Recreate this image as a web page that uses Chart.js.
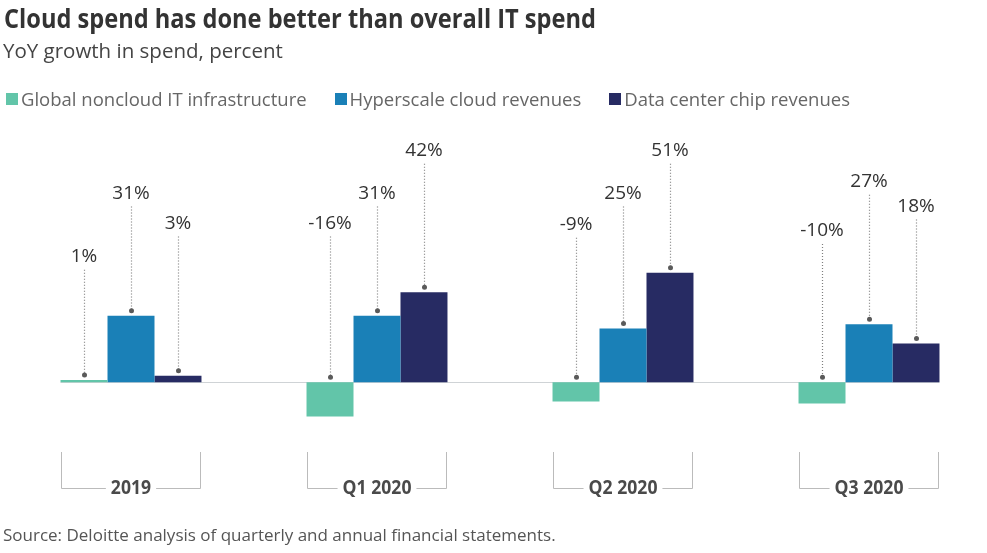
<!DOCTYPE html>
<html>
<head>
<meta charset="utf-8">
<script src="https://cdn.jsdelivr.net/npm/chart.js@4/dist/chart.umd.min.js"></script>
<style>
  html, body { margin: 0; padding: 0; background: #fff; overflow: hidden; width: 987px; height: 553px; }
  body { position: relative; font-family: "Open Sans", sans-serif; }
  #wrap { position: absolute; left: 0; top: 0; width: 1000px; height: 553px; }
  #title { position: absolute; left: 4px; top: 0; font: 700 27px/36px "Open Sans", sans-serif; color: #333; white-space: nowrap; transform-origin: 0 0; }
  #subtitle { position: absolute; left: 3px; top: 36px; font: 400 20.5px/28px "Open Sans", sans-serif; color: #444; white-space: nowrap; }
  #legend { position: absolute; left: 6px; top: 87px; font: 400 18.5px/24px "Open Sans", sans-serif; color: #666; white-space: nowrap; display: flex; }
  #legend .item { display: flex; align-items: center; margin-right: 28px; }
  #legend .box { width: 12px; height: 12px; margin-right: 3px; }
  #note { position: absolute; left: 3px; top: 523px; font: 400 17px/24px "Open Sans", sans-serif; color: #555; white-space: nowrap; }
</style>
</head>
<body>
<div id="wrap"><canvas id="chart"></canvas></div>
<div id="title">Cloud spend has done better than overall IT spend</div>
<div id="subtitle">YoY growth in spend, percent</div>
<div id="legend"></div>
<div id="note">Source: Deloitte analysis of quarterly and annual financial statements.</div>
<script>
// values
const categories = ["2019", "Q1 2020", "Q2 2020", "Q3 2020"];
const seriesNames = ["Global noncloud IT infrastructure", "Hyperscale cloud revenues", "Data center chip revenues"];
const noncloud = [1, -16, -9, -10];
const hyperscale = [31, 31, 25, 27];
const chips = [3, 42, 51, 18];
// heights (in percent units) where each value label sits
const noncloudLabelAt = [58.5, 74, 73.5, 70.5];
const hyperscaleLabelAt = [88, 88, 88, 93.5];
const chipsLabelAt = [74, 108, 108, 82];

const colors = ["#62c5a9", "#1a80b7", "#272b63"];
const series = [noncloud, hyperscale, chips];
const labelAt = [noncloudLabelAt, hyperscaleLabelAt, chipsLabelAt];

// fit title width like the condensed original
(function () {
  const t = document.getElementById("title");
  const c = document.createElement("canvas").getContext("2d");
  c.font = "700 27px 'Open Sans'";
  const w = c.measureText(t.textContent).width;
  t.style.transform = `scaleX(${592 / w})`;
})();

// html legend
const legendEl = document.getElementById("legend");
seriesNames.forEach((name, i) => {
  const item = document.createElement("div");
  item.className = "item";
  item.innerHTML = `<span class="box" style="background:${colors[i]}"></span><span>${name}</span>`;
  legendEl.appendChild(item);
});

const annotations = {
  id: "annotations",
  beforeDatasetsDraw(chart) {
    const { ctx } = chart;
    const y = chart.scales.y;
    const first = chart.getDatasetMeta(0).data[0];
    const last = chart.getDatasetMeta(2).data[categories.length - 1];
    const y0 = y.getPixelForValue(0);
    ctx.save();
    ctx.strokeStyle = "#cfd3d6";
    ctx.lineWidth = 1;
    ctx.beginPath();
    ctx.moveTo(first.x - first.width / 2, Math.round(y0) + 0.5);
    ctx.lineTo(last.x + last.width / 2, Math.round(y0) + 0.5);
    ctx.stroke();
    ctx.restore();
  },
  afterDatasetsDraw(chart) {
    const { ctx, chartArea } = chart;
    const y = chart.scales.y;
    const y0 = y.getPixelForValue(0);
    ctx.save();
    // value labels with dotted leaders
    series.forEach((vals, d) => {
      const meta = chart.getDatasetMeta(d);
      vals.forEach((v, i) => {
        const bar = meta.data[i];
        const x = Math.round(bar.x) + 0.5;
        const ty = y.getPixelForValue(labelAt[d][i]);
        const dotY = Math.min(bar.y, y0) - 5;
        ctx.strokeStyle = "#7f7f7f";
        ctx.lineWidth = 1.2;
        ctx.setLineDash([1, 2]);
        ctx.beginPath();
        ctx.moveTo(x, ty + 13);
        ctx.lineTo(x, dotY);
        ctx.stroke();
        ctx.setLineDash([]);
        ctx.fillStyle = "#5a5a5a";
        ctx.beginPath();
        ctx.arc(x, dotY, 2.5, 0, Math.PI * 2);
        ctx.fill();
        ctx.fillStyle = "#333";
        ctx.font = "400 19px 'Open Sans'";
        ctx.textAlign = "center";
        ctx.textBaseline = "middle";
        ctx.fillText(v + "%", bar.x, ty);
      });
    });
    // category brackets
    const top = chartArea.bottom + 27;
    const base = chartArea.bottom + 63;
    categories.forEach((cat, i) => {
      const a = chart.getDatasetMeta(0).data[i];
      const b = chart.getDatasetMeta(2).data[i];
      const l = Math.round(a.x - a.width / 2) + 0.5;
      const r = Math.round(b.x + b.width / 2) - 0.5;
      const cx = (a.x + b.x) / 2;
      const sx = 0.88;
      ctx.font = "700 20px 'Open Sans'";
      const half = ctx.measureText(cat).width * sx / 2 + 5;
      ctx.strokeStyle = "#bbb";
      ctx.lineWidth = 1;
      ctx.beginPath();
      ctx.moveTo(l, top);
      ctx.lineTo(l, base + 0.5);
      ctx.lineTo(cx - half, base + 0.5);
      ctx.moveTo(cx + half, base + 0.5);
      ctx.lineTo(r, base + 0.5);
      ctx.lineTo(r, top);
      ctx.stroke();
      ctx.save();
      ctx.translate(cx, base);
      ctx.scale(sx, 1);
      ctx.fillStyle = "#4a4a4a";
      ctx.textAlign = "center";
      ctx.textBaseline = "middle";
      ctx.fillText(cat, 0, 0);
      ctx.restore();
    });
    ctx.restore();
  }
};

new Chart(document.getElementById("chart").getContext("2d"), {
  type: "bar",
  data: {
    labels: categories,
    datasets: series.map((vals, i) => ({
      label: seriesNames[i],
      data: vals,
      backgroundColor: colors[i],
      borderWidth: 0,
      categoryPercentage: 0.573,
      barPercentage: 1
    }))
  },
  options: {
    responsive: true,
    maintainAspectRatio: false,
    animation: false,
    layout: { padding: { left: 8, right: 8, top: 140, bottom: 128 } },
    plugins: { legend: { display: false }, tooltip: { enabled: false } },
    scales: {
      x: { display: false },
      y: { display: false, min: -20, max: 113 }
    }
  },
  plugins: [annotations]
});
</script>
</body>
</html>
